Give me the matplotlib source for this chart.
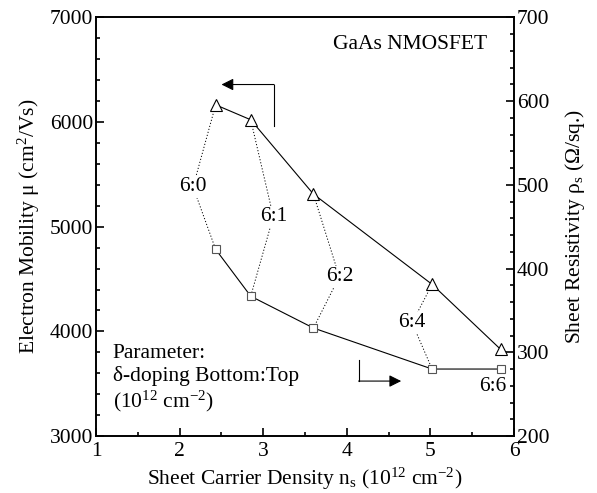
import matplotlib
matplotlib.use("Agg")
import matplotlib.pyplot as plt
from matplotlib.ticker import MultipleLocator

plt.rcParams["font.family"] = ["Liberation Serif", "DejaVu Serif"]
plt.rcParams["mathtext.fontset"] = "custom"
plt.rcParams["mathtext.rm"] = "Liberation Serif"
plt.rcParams["mathtext.it"] = "Liberation Serif:italic"

FS = 15.5

# data
density = [2.43, 2.85, 3.60, 5.02, 5.84]          # 10^12 cm^-2
mobility = [6165, 6022, 5312, 4449, 3828]         # cm^2/Vs (left axis)
resistivity = [423, 367, 329, 280, 280]           # Ohm/sq (right axis)
ratios = ["6:0", "6:1", "6:2", "6:4", "6:6"]
# label positions in left-axis units (x, mobility)
label_x = [2.16, 3.12, 3.91, 4.78, 5.74]
label_y = [5380, 5097, 4522, 4082, 3470]
connected = [True, True, True, True, False]

fig = plt.figure(figsize=(5.97, 4.93), dpi=100)
ax = fig.add_axes([0.161, 0.1156, 0.700, 0.849])
ax2 = ax.twinx()

ax.set_xlim(1, 6)
ax.set_ylim(3000, 7000)
ax2.set_ylim(200, 700)

ax.plot(density, mobility, color="black", lw=0.8, marker="^", ms=8,
        mfc="white", mec="black", mew=0.8, zorder=3)
ax2.plot(density, resistivity, color="black", lw=0.8, marker="s", ms=5.5,
         mfc="white", mec="#555555", mew=0.8, zorder=3)

# dotted connectors triangle -> label -> square, label sits on the bend
to_left = ax.transData.inverted()
for i, r in enumerate(ratios):
    if connected[i]:
        sq = to_left.transform(ax2.transData.transform((density[i], resistivity[i])))
        ax.plot([density[i], label_x[i], sq[0]], [mobility[i], label_y[i], sq[1]],
                color="black", lw=0.7, ls=(0, (1.2, 2)), zorder=1)
    ax.text(label_x[i], label_y[i], r, fontsize=FS, ha="center", va="center",
            bbox=dict(facecolor="white", edgecolor="none", pad=1.0), zorder=2)

# direction arrows
ax.plot([3.13, 3.13], [5958, 6359], color="black", lw=0.8)
ax.annotate("", xy=(2.50, 6359), xytext=(3.13, 6359),
            arrowprops=dict(arrowstyle="-|>", color="black", lw=0.8,
                            mutation_scale=18, shrinkA=0, shrinkB=0))
ax.plot([4.14, 4.14], [3726, 3525], color="black", lw=0.8)
ax.annotate("", xy=(4.65, 3525), xytext=(4.14, 3525),
            arrowprops=dict(arrowstyle="-|>", color="black", lw=0.8,
                            mutation_scale=18, shrinkA=0, shrinkB=0))

ax.text(5.68, 6737, "GaAs NMOSFET", fontsize=FS, ha="right", va="center")
ax.text(1.2, 3875, "Parameter:\nδ-doping Bottom:Top\n(10$^{12}$ cm$^{-2}$)",
        fontsize=FS, ha="left", va="top", linespacing=1.15)

ax.set_xlabel("Sheet Carrier Density n$_\\mathrm{s}$ (10$^{12}$ cm$^{-2}$)", fontsize=FS, labelpad=4)
ax.set_ylabel("Electron Mobility μ (cm$^2$/Vs)", fontsize=FS, labelpad=6)
ax2.set_ylabel("Sheet Resistivity ρ$_\\mathrm{s}$ (Ω/sq.)", fontsize=FS, labelpad=10)

ax.xaxis.set_major_locator(MultipleLocator(1))
ax.xaxis.set_minor_locator(MultipleLocator(0.5))
ax.yaxis.set_major_locator(MultipleLocator(1000))
ax.yaxis.set_minor_locator(MultipleLocator(200))
ax2.yaxis.set_major_locator(MultipleLocator(100))
ax2.yaxis.set_minor_locator(MultipleLocator(20))

for a in (ax, ax2):
    a.tick_params(which="both", direction="in", labelsize=FS, width=1.2)
    a.tick_params(which="major", length=6)
    a.tick_params(which="minor", length=3)
    for s in a.spines.values():
        s.set_linewidth(1.2)
ax.tick_params(axis="x", top=False, pad=4)
ax.tick_params(axis="y", right=False, pad=2)
ax2.tick_params(axis="y", pad=2)

fig.savefig("out.png", dpi=100)
